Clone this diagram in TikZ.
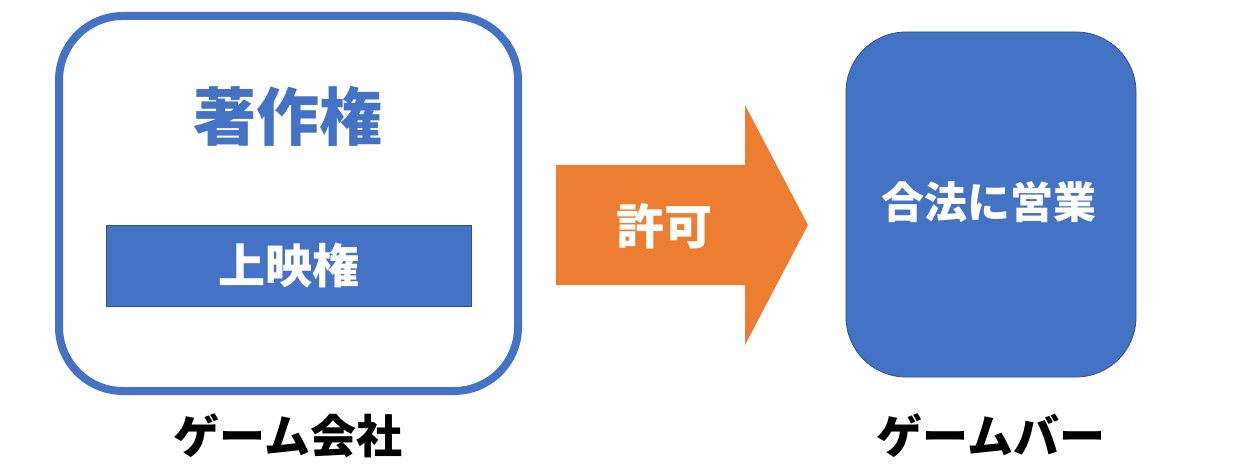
\documentclass[tikz,border=0pt]{standalone}
\usepackage{fontspec}
\newfontfamily\cjk{Noto Sans CJK JP}
\definecolor{oblue}{HTML}{4472C4}
\definecolor{dblue}{HTML}{2F528F}
\definecolor{oorange}{HTML}{ED7D31}
\begin{document}
\begin{tikzpicture}[x=1pt,y=-1pt,
  lbl/.style={font=\cjk\bfseries\fontsize{#1}{#1}\selectfont, inner sep=0pt}]
\useasboundingbox (0,0) rectangle (1260,470);
% left company box
\draw[oblue, line width=8pt, rounded corners=64pt] (59,16) rectangle (518,391);
\node[lbl=63, text=oblue] (copy) at (288,116) {著作権};
\node[draw=dblue, line width=0.8pt, fill=oblue, minimum width=365pt, minimum height=81pt, inner sep=0pt] (screen) at (288.5,265.5) {};
\node[lbl=47, text=white] at (screen.center) {上映権};
\node[lbl=46] (company) at (288,436) {ゲーム会社};
% arrow
\fill[oorange] (556,165) -- (745,165) -- (745,105) -- (808,225) -- (745,345) -- (745,285) -- (556,285) -- cycle;
\node[lbl=48, text=white] (permit) at (664,226) {許可};
% right bar box
\node[draw=dblue, line width=0.8pt, fill=oblue, rounded corners=60pt, minimum width=290pt, minimum height=345pt, inner sep=0pt] (bar) at (991,204.5) {};
\node[lbl=43, text=white] (legal) at (989,202) {合法に営業};
\node[lbl=46] (barlbl) at (991,436) {ゲームバー};
\end{tikzpicture}
\end{document}
